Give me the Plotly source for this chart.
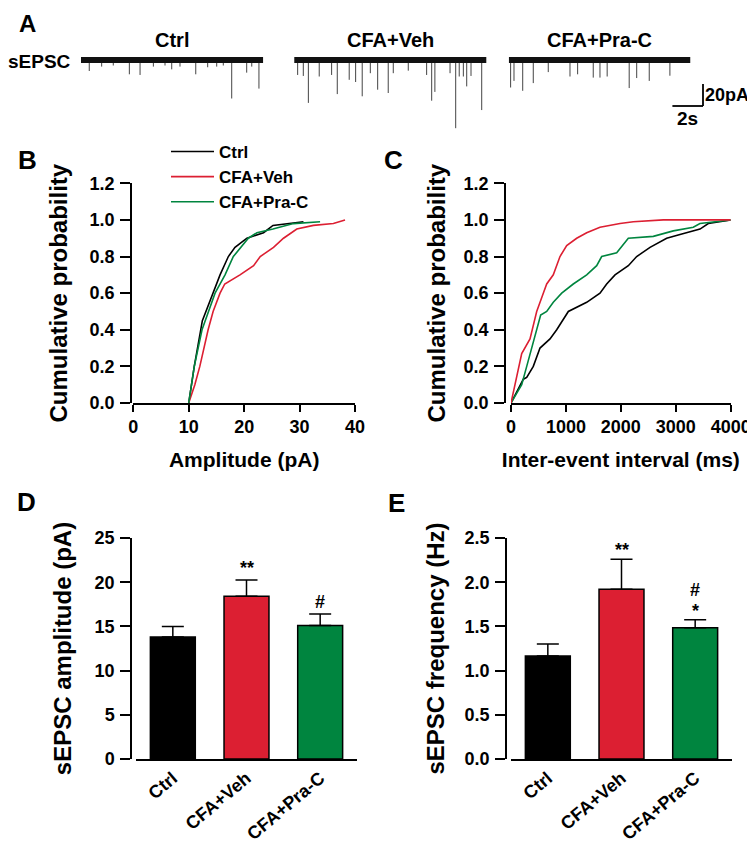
import plotly.graph_objects as go

W, H = 755, 844
PAGE_MARGIN = 8  # default body margin of the written html page
FONT = "Arial, Liberation Sans, sans-serif"
BLACK, RED, GREEN = "#000000", "#DC1F32", "#00853F"

# ---------------- Panel A: example sEPSC traces (event time s, amplitude pA) ----------------
TRACE_NAMES = ["Ctrl", "CFA+Veh", "CFA+Pra-C"]
TRACE_DUR = [11.9, 12.55, 11.85]
TRACE_OFFSET = [0.0, 13.94, 27.97]
CTRL_T = [0.54, 1.35, 2.11, 3.16, 3.86, 4.73, 5.49, 5.93, 6.47, 7.5, 8.28, 8.87, 9.3, 9.85, 10.83, 11.16, 11.63]
CTRL_A = [10, 6, 5, 13, 13.6, 6, 5, 8.5, 6, 13, 6.6, 6, 5, 35, 11.5, 6, 26]
VEH_T = [0.22, 0.59, 0.92, 1.63, 2.44, 2.81, 3.59, 4.01, 4.44, 4.97, 5.45, 6.14, 6.47, 7.45, 8.65, 8.98, 9.19,
         10.18, 10.55, 10.78, 11.05, 11.27, 11.55, 12.25]
VEH_A = [13.6, 14.5, 39, 15, 13.6, 31, 18, 20, 33, 12, 27, 30, 12, 9.7, 13.6, 37, 29, 12, 62, 15, 15, 24, 14.5, 45.5]
PRA_T = [0.11, 0.33, 0.9, 1.59, 2.57, 3.99, 4.49, 5.51, 5.95, 6.42, 7.86, 8.35, 9.17, 10.52]
PRA_A = [25, 19, 28, 21, 11, 15, 13, 16, 16, 15, 25.5, 16.4, 19, 14.3]
SCALE_T, SCALE_A = 2, 20

# ---------------- Panel B: cumulative amplitude (pA, probability) ----------------
B_CTRL_X = [10, 11.0, 12.46, 14.3, 15.65, 17.15, 18.35, 20.5, 23.5, 25.2, 27.7, 30.7]
B_CTRL_Y = [0, 0.2, 0.45, 0.6, 0.7, 0.8, 0.85, 0.9, 0.93, 0.97, 0.98, 0.99]
B_VEH_X = [10, 11.1, 12.0, 12.76, 13.5, 14.4, 15.65, 16.5, 19.25, 21.7, 22.9, 25.3, 27.1, 29.5, 32.5, 36.1, 38.2]
B_VEH_Y = [0, 0.1, 0.2, 0.3, 0.4, 0.5, 0.6, 0.65, 0.7, 0.75, 0.8, 0.85, 0.9, 0.95, 0.97, 0.98, 1.0]
B_PRA_X = [10, 11.0, 12.4, 14.75, 16.55, 18.05, 20.75, 22.3, 25.2, 28.9, 33.7]
B_PRA_Y = [0, 0.2, 0.4, 0.6, 0.7, 0.8, 0.9, 0.93, 0.95, 0.98, 0.99]

# ---------------- Panel C: cumulative inter-event interval (ms, probability) ----------------
C_CTRL_X = [0, 225, 286, 406, 528, 710, 832, 1044, 1378, 1620, 1742, 1894, 2136, 2288, 2531, 2834, 3077, 3441, 3592, 4000]
C_CTRL_Y = [0, 0.13, 0.14, 0.2, 0.3, 0.35, 0.4, 0.5, 0.55, 0.6, 0.65, 0.7, 0.75, 0.8, 0.85, 0.9, 0.92, 0.95, 0.98, 1.0]
C_VEH_X = [0, 195, 346, 468, 588, 650, 770, 892, 1014, 1196, 1378, 1620, 1985, 2227, 2773, 4000]
C_VEH_Y = [0, 0.27, 0.35, 0.5, 0.6, 0.65, 0.7, 0.8, 0.86, 0.9, 0.93, 0.96, 0.98, 0.99, 1.0, 1.0]
C_PRA_X = [0, 195, 286, 377, 468, 540, 650, 770, 923, 1134, 1378, 1560, 1651, 1924, 2136, 2591, 2955, 3319, 3440, 4000]
C_PRA_Y = [0, 0.1, 0.2, 0.3, 0.4, 0.48, 0.5, 0.55, 0.6, 0.65, 0.7, 0.75, 0.8, 0.82, 0.9, 0.91, 0.94, 0.96, 0.98, 1.0]

# ---------------- Panels D, E: bar summaries ----------------
GROUPS = ["Ctrl", "CFA+Veh", "CFA+Pra-C"]
BAR_COLORS = [BLACK, RED, GREEN]
AMP_MEAN = [13.8, 18.4, 15.1]
AMP_SEM = [1.2, 1.85, 1.3]
AMP_SIG = ["", "**", "#"]
FREQ_MEAN = [1.165, 1.92, 1.485]
FREQ_SEM = [0.135, 0.34, 0.09]
FREQ_SIG = ["", "**", "*"]
FREQ_SIG2 = ["", "", "#"]


def fx(p):
    return (p - PAGE_MARGIN) / W


def fy(p):
    return 1 - (p - PAGE_MARGIN) / H


fig = go.Figure()

# ---- Panel A traces ----
base_x, base_y, ev_x, ev_y = [], [], [], []
for off, dur, ts, amps in zip(TRACE_OFFSET, TRACE_DUR, [CTRL_T, VEH_T, PRA_T], [CTRL_A, VEH_A, PRA_A]):
    base_x += [off, off + dur, None]
    base_y += [0, 0, None]
    for t, a in zip(ts, amps):
        ev_x += [off + t, off + t, None]
        ev_y += [0, -a, None]
fig.add_trace(go.Scatter(x=ev_x, y=ev_y, mode="lines", line=dict(color="#444444", width=1),
                         showlegend=False, hoverinfo="skip", xaxis="x", yaxis="y"))
fig.add_trace(go.Scatter(x=base_x, y=base_y, mode="lines", line=dict(color="#111111", width=6),
                         showlegend=False, hoverinfo="skip", xaxis="x", yaxis="y"))

# ---- Panel B ----
for nm, xs, ys, c in [("Ctrl", B_CTRL_X, B_CTRL_Y, BLACK), ("CFA+Veh", B_VEH_X, B_VEH_Y, RED),
                      ("CFA+Pra-C", B_PRA_X, B_PRA_Y, GREEN)]:
    fig.add_trace(go.Scatter(x=xs, y=ys, name=nm, mode="lines", line=dict(color=c, width=1.6),
                             xaxis="x2", yaxis="y2", showlegend=True))
# ---- Panel C ----
for nm, xs, ys, c in [("Ctrl", C_CTRL_X, C_CTRL_Y, BLACK), ("CFA+Pra-C", C_PRA_X, C_PRA_Y, GREEN),
                      ("CFA+Veh", C_VEH_X, C_VEH_Y, RED)]:
    fig.add_trace(go.Scatter(x=xs, y=ys, name=nm, mode="lines", line=dict(color=c, width=1.6),
                             xaxis="x3", yaxis="y3", showlegend=False))

# ---- Panels D & E ----
fig.add_trace(go.Bar(x=GROUPS, y=AMP_MEAN, width=0.61, marker=dict(color=BAR_COLORS, line=dict(color=BLACK, width=1.5)),
                     error_y=dict(type="data", array=AMP_SEM, arrayminus=[0, 0, 0], symmetric=False,
                                  color=BLACK, thickness=1.5, width=11),
                     xaxis="x4", yaxis="y4", showlegend=False))
fig.add_trace(go.Bar(x=GROUPS, y=FREQ_MEAN, width=0.61, marker=dict(color=BAR_COLORS, line=dict(color=BLACK, width=1.5)),
                     error_y=dict(type="data", array=FREQ_SEM, arrayminus=[0, 0, 0], symmetric=False,
                                  color=BLACK, thickness=1.5, width=11),
                     xaxis="x5", yaxis="y5", showlegend=False))

tickfont = dict(family=FONT, size=18, color=BLACK, weight="bold")
titlefont = dict(family=FONT, size=24, color=BLACK, weight="bold")
xtitlefont = dict(family=FONT, size=21, color=BLACK, weight="bold")


def yax(dom_top, dom_bot, pos, rng, dtick, fmt, title, standoff):
    return dict(domain=[fy(dom_bot), fy(dom_top)], anchor="free", position=fx(pos), range=rng, dtick=dtick,
                tickformat=fmt, showgrid=False, zeroline=False, showline=True, linecolor=BLACK, linewidth=1.5,
                ticks="outside", ticklen=10, tickwidth=1.5, tickcolor=BLACK, tickfont=tickfont,
                ticklabelstandoff=2, automargin=False,
                title=dict(text=title, font=titlefont, standoff=standoff), fixedrange=True)


def xax(left, right, anchor, rng, dtick=None, title=None, ticks="outside"):
    d = dict(domain=[fx(left), fx(right)], anchor=anchor, range=rng, showgrid=False, zeroline=False,
             showline=True, linecolor=BLACK, linewidth=1.5, ticks=ticks, ticklen=7, tickwidth=1.5,
             tickcolor=BLACK, tickfont=tickfont, automargin=False, fixedrange=True)
    if dtick is not None:
        d["dtick"] = dtick
    if title:
        d["title"] = dict(text=title, font=xtitlefont, standoff=16)
    return d


layout = dict(
    template="none",
    width=W, height=H, margin=dict(l=0, r=0, t=0, b=0, pad=0), autosize=False,
    paper_bgcolor="white", plot_bgcolor="white",
    font=dict(family=FONT, color=BLACK),
    xaxis=dict(domain=[fx(81), fx(710)], range=[0, (710 - 81) / 15.3], visible=False, fixedrange=True, automargin=False),
    yaxis=dict(domain=[fy(135), fy(48)], range=[-(135 - 60) / 1.1, (60 - 48) / 1.1], visible=False, fixedrange=True,
               automargin=False),
    xaxis2=xax(133.3, 355, "y2", [0, 40], 10, "Amplitude (pA)"),
    yaxis2=yax(183.3, 403, 131, [0, 1.2], 0.2, ".1f", "Cumulative probability", 14),
    xaxis3=xax(511, 730.7, "y3", [0, 4000], 1000, "Inter-event interval (ms)"),
    yaxis3=yax(183.3, 403, 505, [0, 1.2], 0.2, ".1f", "Cumulative probability", 10),
    xaxis4=dict(xax(136, 357, "y4", [-0.5, 2.5], ticks=""), tickangle=-40, type="category"),
    yaxis4=yax(538, 759, 131, [0, 25], 5, "d", "sEPSC amplitude (pA)", 15),
    xaxis5=dict(xax(511, 732, "y5", [-0.5, 2.5], ticks=""), tickangle=-40, type="category"),
    yaxis5=yax(538, 759, 506, [0, 2.5], 0.5, ".1f", "sEPSC frequency (Hz)", 12),
    legend=dict(x=fx(166), y=fy(134), xanchor="left", yanchor="top", bgcolor="rgba(0,0,0,0)",
                font=dict(family=FONT, size=17, color=BLACK, weight="bold"), itemwidth=43,
                tracegroupgap=0),
)
fig.update_layout(**layout)

ann = []
# panel letters
ann.append(dict(text="A", x=fx(27), y=fy(PAGE_MARGIN), xref="paper", yref="paper", showarrow=False,
                xanchor="center", yanchor="top", font=dict(family=FONT, size=24, color=BLACK, weight="bold")))
for lab, (x, y) in {"B": (27, 160), "C": (393, 160), "D": (26, 502), "E": (396, 503)}.items():
    ann.append(dict(text=lab, x=fx(x), y=fy(y), xref="paper", yref="paper", showarrow=False,
                    xanchor="center", yanchor="middle", font=dict(family=FONT, size=26, color=BLACK, weight="bold")))
# trace titles
for nm, off, dur in zip(TRACE_NAMES, TRACE_OFFSET, TRACE_DUR):
    ann.append(dict(text=nm, x=off + dur / 2, y=fy(40), xref="x", yref="paper", showarrow=False,
                    xanchor="center", yanchor="middle", font=dict(family=FONT, size=20, color=BLACK, weight="bold")))
ann.append(dict(text="sEPSC", x=fx(73), y=fy(61), xref="paper", yref="paper", showarrow=False,
                xanchor="right", yanchor="middle", font=dict(family=FONT, size=19, color=BLACK, weight="bold")))
# scale bar
SX = (703 - 81) / 15.3
SY = -(106 - 60) / 1.1
fig.add_shape(type="line", x0=SX, x1=SX, y0=SY, y1=SY + SCALE_A, xref="x", yref="y", line=dict(color=BLACK, width=1.8))
fig.add_shape(type="line", x0=SX - SCALE_T, x1=SX, y0=SY, y1=SY, xref="x", yref="y", line=dict(color=BLACK, width=1.8))
ann.append(dict(text=f"{SCALE_A}pA", x=SX, y=SY + SCALE_A / 2, xref="x", yref="y", showarrow=False, xanchor="left",
                yanchor="middle", xshift=0, font=dict(family=FONT, size=18, color=BLACK, weight="bold")))
ann.append(dict(text=f"{SCALE_T}s", x=SX - SCALE_T / 2, y=SY, xref="x", yref="y", showarrow=False, xanchor="center",
                yanchor="top", yshift=0, font=dict(family=FONT, size=19, color=BLACK, weight="bold")))
# significance marks
sigfont = dict(family=FONT, size=18, color=BLACK, weight="bold")
for g, m, s, t in zip(GROUPS, AMP_MEAN, AMP_SEM, AMP_SIG):
    if t:
        ann.append(dict(text=t, x=g, y=m + s, xref="x4", yref="y4", showarrow=False, xanchor="center",
                        yanchor="bottom", yshift=0, font=sigfont))
for g, m, s, t, t2 in zip(GROUPS, FREQ_MEAN, FREQ_SEM, FREQ_SIG, FREQ_SIG2):
    if t:
        ann.append(dict(text=t, x=g, y=m + s, xref="x5", yref="y5", showarrow=False, xanchor="center",
                        yanchor="bottom", yshift=-3, font=sigfont))
    if t2:
        ann.append(dict(text=t2, x=g, y=m + s, xref="x5", yref="y5", showarrow=False, xanchor="center",
                        yanchor="bottom", yshift=18, font=sigfont))
fig.update_layout(annotations=ann)

fig.write_html("out.html")
